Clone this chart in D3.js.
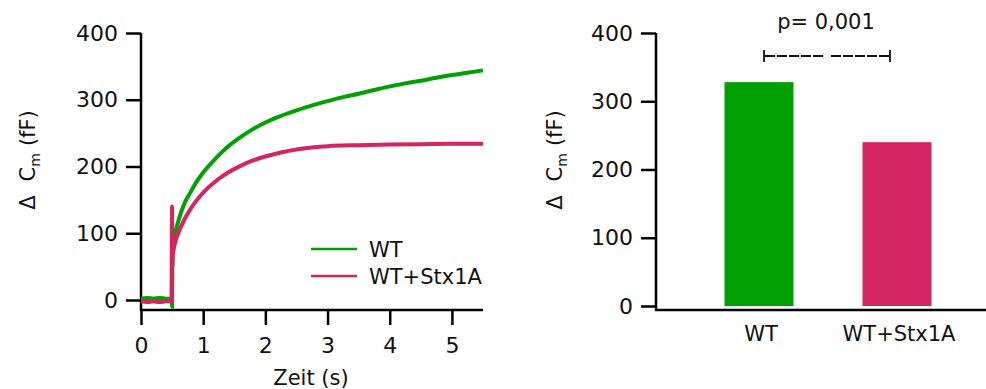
<!DOCTYPE html>
<html>
<head>
<meta charset="utf-8">
<script src="https://cdn.jsdelivr.net/npm/d3@7"></script>
<style>
  body { margin: 0; background: #fff; }
  text { font-family: "DejaVu Sans", sans-serif; fill: #111; }
</style>
</head>
<body>
<script>
// chart size
var svgWidth = 986;
var svgHeight = 389;

// trace data (time in s, delta Cm in fF)
var wtTime = [0, 0.1, 0.2, 0.3, 0.4, 0.49, 0.5, 0.505, 0.52, 0.55, 0.6, 0.65, 0.7, 0.8, 0.9, 1.0, 1.2, 1.4, 1.6, 1.8, 2.0, 2.25, 2.5, 2.75, 3.0, 3.25, 3.5, 3.75, 4.0, 4.25, 4.5, 4.75, 5.0, 5.25, 5.5];
var wtVals = [2, 3, 2, 3, 2, 2, -10, 62, 82, 100, 118, 133, 145, 162, 178, 191, 212, 230, 244, 256, 266, 276, 284, 291.5, 298, 304, 309, 314.5, 320, 324.5, 328.5, 333, 337, 340.5, 344];
var stxTime = [0, 0.1, 0.2, 0.3, 0.4, 0.49, 0.5, 0.502, 0.51, 0.53, 0.56, 0.6, 0.65, 0.7, 0.8, 0.9, 1.0, 1.2, 1.4, 1.6, 1.8, 2.0, 2.25, 2.5, 2.75, 3.0, 3.5, 4.0, 4.5, 5.0, 5.5];
var stxVals = [-2, -3, -2, -3, -2, -2, 140, 50, 65, 78, 90, 100, 111, 121, 137, 150, 161, 178, 191, 201, 209, 215, 221, 225.5, 228.5, 230.5, 232, 233, 233.5, 234, 234];

var xTicks = [0, 1, 2, 3, 4, 5];
var yTicks = [0, 100, 200, 300, 400];
var legendLabels = ["WT", "WT+Stx1A"];

// bar data
var barLabels = ["WT", "WT+Stx1A"];
var barVals = [328, 240];
var pText = "p= 0,001";

var green = "#02a002";
var pink = "#d42462";
var colors = [green, pink];

var svg = d3.select("body")
    .append("svg")
    .attr("width", svgWidth)
    .attr("height", svgHeight);

// ---------- left panel: traces ----------
var xScale = d3.scaleLinear().domain([0, 5.5]).range([141, 483]);
var yScale = d3.scaleLinear().domain([0, 400]).range([300, 33]);
var xAxisY = 310;

var left = svg.append("g");

// y axis
var yAxis = d3.axisLeft(yScale).tickValues(yTicks).tickSize(15).tickPadding(8).tickFormat(d3.format("d"));
left.append("g")
    .attr("transform", "translate(141,0)")
    .call(yAxis)
    .call(g => g.select(".domain").remove());
left.append("line")
    .attr("x1", 141).attr("x2", 141)
    .attr("y1", yScale(400)).attr("y2", xAxisY + 1)
    .attr("stroke", "#000").attr("stroke-width", 2.5);

// x axis
var xAxis = d3.axisBottom(xScale).tickValues(xTicks).tickSize(15).tickPadding(12).tickSizeOuter(0).tickFormat(d3.format("d"));
left.append("g")
    .attr("transform", `translate(0,${xAxisY})`)
    .call(xAxis)
    .call(g => g.select(".domain").remove());
left.append("line")
    .attr("x1", 140).attr("x2", xScale(5.5))
    .attr("y1", xAxisY).attr("y2", xAxisY)
    .attr("stroke", "#000").attr("stroke-width", 2.5);

// traces
var line = d3.line()
    .x(d => xScale(d[0]))
    .y(d => yScale(d[1]))
    .curve(d3.curveMonotoneX);

left.append("path")
    .datum(wtTime.map((t, i) => [t, wtVals[i]]))
    .attr("d", line)
    .attr("fill", "none")
    .attr("stroke", green)
    .attr("stroke-width", 4);

left.append("path")
    .datum(stxTime.map((t, i) => [t, stxVals[i]]))
    .attr("d", line)
    .attr("fill", "none")
    .attr("stroke", pink)
    .attr("stroke-width", 4);

// legend
var legend = left.append("g");
legendLabels.forEach(function(lab, i) {
    var ly = 249 + i * 27;
    legend.append("line")
        .attr("x1", 311).attr("x2", 357)
        .attr("y1", ly).attr("y2", ly)
        .attr("stroke", colors[i]).attr("stroke-width", 2.5);
    legend.append("text")
        .attr("x", 369).attr("y", ly + 8)
        .attr("font-size", 21)
        .text(lab);
});

// axis titles
left.append("text")
    .attr("x", 311).attr("y", 385)
    .attr("text-anchor", "middle")
    .attr("font-size", 21)
    .text("Zeit (s)");

function yLabel(g, x, y) {
    var t = g.append("text")
        .attr("transform", `translate(${x},${y}) rotate(-90)`)
        .attr("text-anchor", "middle")
        .attr("font-size", 21);
    t.append("tspan").text("\u0394");
    t.append("tspan").attr("dx", 14).text("C");
    t.append("tspan").attr("font-size", 14).attr("dy", 5).text("m");
    t.append("tspan").attr("dy", -5).attr("dx", 7).text("(fF)");
}
yLabel(left, 35, 160);

// ---------- right panel: bars ----------
var right = svg.append("g");
var yBar = d3.scaleLinear().domain([0, 400]).range([306, 33]);
var xBand = d3.scaleBand().domain(barLabels).range([690, 966]).paddingInner(0.5).paddingOuter(0.25);
var barAxisY = 310;

var yAxisR = d3.axisLeft(yBar).tickValues(yTicks).tickSize(15).tickPadding(8).tickFormat(d3.format("d"));
right.append("g")
    .attr("transform", "translate(656,0)")
    .call(yAxisR)
    .call(g => g.select(".domain").remove());
right.append("line")
    .attr("x1", 656).attr("x2", 656)
    .attr("y1", yBar(400)).attr("y2", barAxisY + 1)
    .attr("stroke", "#000").attr("stroke-width", 2.5);
right.append("line")
    .attr("x1", 655).attr("x2", svgWidth)
    .attr("y1", barAxisY).attr("y2", barAxisY)
    .attr("stroke", "#000").attr("stroke-width", 2.5);

right.selectAll("rect.bar")
    .data(barLabels)
    .enter()
    .append("rect")
    .attr("class", "bar")
    .attr("x", d => xBand(d))
    .attr("width", xBand.bandwidth())
    .attr("y", (d, i) => yBar(barVals[i]))
    .attr("height", (d, i) => yBar(0) - yBar(barVals[i]))
    .attr("fill", (d, i) => colors[i]);

right.selectAll("text.cat")
    .data(barLabels)
    .enter()
    .append("text")
    .attr("class", "cat")
    .attr("x", d => xBand(d) + xBand.bandwidth() / 2 + 2)
    .attr("y", 341)
    .attr("text-anchor", "middle")
    .attr("font-size", 21)
    .text(d => d);

// significance bracket
var bx1 = 764, bx2 = 890, by = 56;
right.append("line").attr("x1", bx1).attr("x2", bx1).attr("y1", by - 6).attr("y2", by + 6)
    .attr("stroke", "#111").attr("stroke-width", 1.8);
right.append("line").attr("x1", bx2).attr("x2", bx2).attr("y1", by - 6).attr("y2", by + 6)
    .attr("stroke", "#111").attr("stroke-width", 1.8);
right.append("line").attr("x1", bx1 + 1).attr("x2", 823).attr("y1", by).attr("y2", by)
    .attr("stroke", "#111").attr("stroke-width", 1.8).attr("stroke-dasharray", "10,2");
right.append("line").attr("x1", 831).attr("x2", bx2 - 1).attr("y1", by).attr("y2", by)
    .attr("stroke", "#111").attr("stroke-width", 1.8).attr("stroke-dasharray", "10,2");

right.append("text")
    .attr("x", 826).attr("y", 29)
    .attr("text-anchor", "middle")
    .attr("font-size", 21)
    .text(pText);

yLabel(right, 562, 160);

// tick label styling
svg.selectAll(".tick text").attr("font-size", 22).attr("font-family", "DejaVu Sans").attr("fill", "#111");
svg.selectAll(".tick line").attr("stroke", "#000").attr("stroke-width", 2.5);
</script>
</body>
</html>
